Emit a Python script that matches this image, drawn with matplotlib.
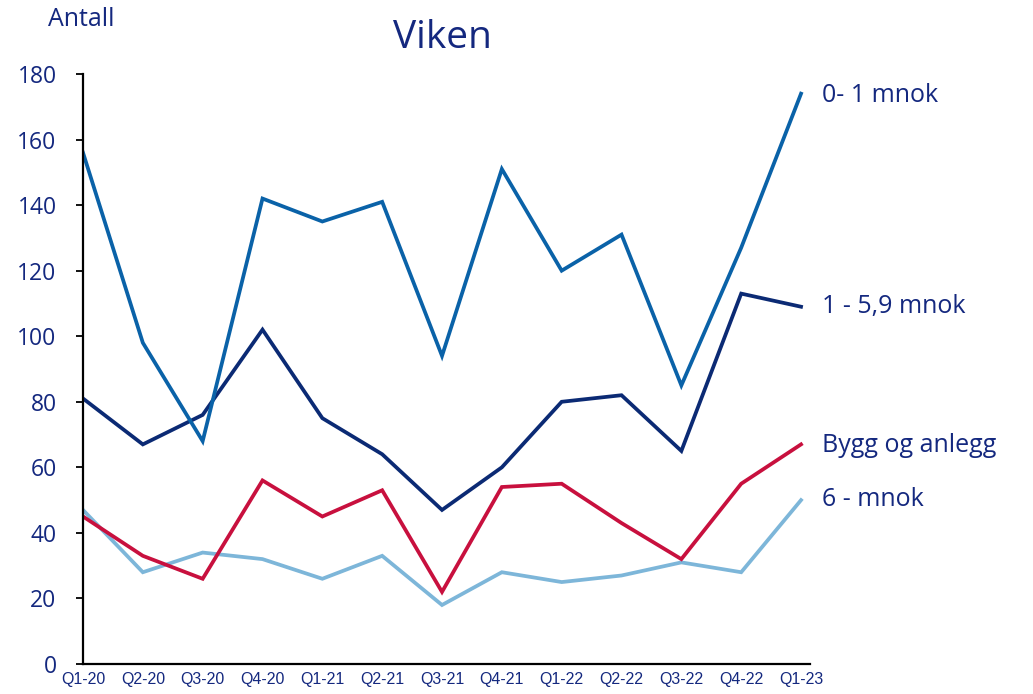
import matplotlib
matplotlib.use("Agg")
import matplotlib.pyplot as plt

quarters = ["Q1-20", "Q2-20", "Q3-20", "Q4-20", "Q1-21", "Q2-21", "Q3-21",
            "Q4-21", "Q1-22", "Q2-22", "Q3-22", "Q4-22", "Q1-23"]
small = [156, 98, 68, 142, 135, 141, 94, 151, 120, 131, 85, 127, 174]      # 0- 1 mnok
medium = [81, 67, 76, 102, 75, 64, 47, 60, 80, 82, 65, 113, 109]          # 1 - 5,9 mnok
bygg = [45, 33, 26, 56, 45, 53, 22, 54, 55, 43, 32, 55, 67]               # Bygg og anlegg
large = [47, 28, 34, 32, 26, 33, 18, 28, 25, 27, 31, 28, 50]              # 6 - mnok
yticks = [0, 20, 40, 60, 80, 100, 120, 140, 160, 180]

TXT = "#14287F"
FONT = ["Open Sans", "DejaVu Sans"]
NARROW = ["Liberation Sans Narrow", "Liberation Sans", "DejaVu Sans"]

fig = plt.figure(figsize=(10.33, 6.94), dpi=100)
ax = fig.add_axes([83/1033, 30/694, (810-83)/1033, (664-74)/694])
x = list(range(len(quarters)))

series = [
    (large, "#7DB6D9", "6 - mnok"),
    (bygg, "#C8103E", "Bygg og anlegg"),
    (medium, "#0B2A74", "1 - 5,9 mnok"),
    (small, "#0A62A8", "0- 1 mnok"),
]
for vals, col, lab in series:
    ax.plot(x, vals, color=col, lw=2.7, solid_joinstyle="miter")

ax.set_xlim(0, 12.15)
ax.set_ylim(0, 180)
ax.set_yticks(yticks)
ax.set_yticklabels([str(v) for v in yticks], fontsize=16.5, color=TXT, family=FONT)
ax.set_xticks(x)
ax.set_xticklabels(quarters, fontsize=11.5, color=TXT, family=NARROW)
ax.tick_params(axis="x", length=0, pad=6)
ax.tick_params(axis="y", length=5, width=1.3, color="black", pad=14)
for s in ["top", "right"]:
    ax.spines[s].set_visible(False)
for s in ["left", "bottom"]:
    ax.spines[s].set_linewidth(1.6)
    ax.spines[s].set_color("black")

# right-side labels
label_pos = {"0- 1 mnok": 95, "1 - 5,9 mnok": 307, "Bygg og anlegg": 445, "6 - mnok": 500}
for lab, ypix in label_pos.items():
    fig.text(822/1033, 1 - ypix/694, lab, fontsize=18, color=TXT, family=FONT,
             ha="left", va="center")

fig.text(442/1033, 1 - 38/694, "Viken", fontsize=28, color=TXT, family=FONT,
         ha="center", va="center")
fig.text(48/1033, 1 - 20/694, "Antall", fontsize=18, color=TXT, family=FONT,
         ha="left", va="center")

fig.savefig("out.png", dpi=100)
